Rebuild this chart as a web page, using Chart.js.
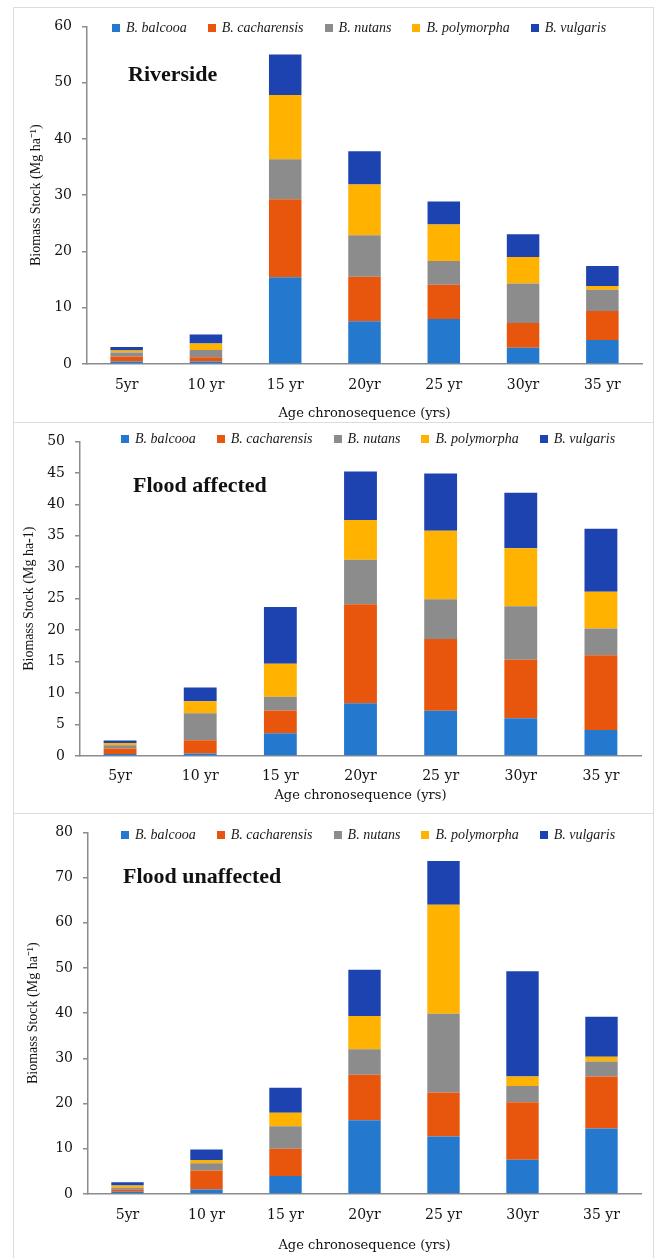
<!DOCTYPE html>
<html><head><meta charset="utf-8">
<script src="https://cdn.jsdelivr.net/npm/chart.js@4.4.1/dist/chart.umd.min.js"></script>
<style>
html,body{margin:0;padding:0;background:#fff;}
body{width:654px;height:1258px;position:relative;overflow:hidden;}
.panel{position:absolute;left:13px;width:641px;border:1px solid #dcdcdc;box-sizing:border-box;}
canvas{position:absolute;left:0;}
.lbl{position:absolute;font:bold 22px "Liberation Serif",serif;color:#111;white-space:nowrap;line-height:22px;}
.legend{position:absolute;display:flex;align-items:center;font:italic 14px "Liberation Serif",serif;color:#1a1a1a;white-space:nowrap;line-height:16px;}
.legend .item{display:flex;align-items:center;margin-right:21px;}
.legend i{display:inline-block;width:8px;height:8px;margin-right:6px;}
</style></head>
<body>
<div class="panel" style="top:7px;height:416px"></div>
<div class="panel" style="top:422px;height:392px"></div>
<div class="panel" style="top:813px;height:450px"></div>
<canvas id="c1" width="654" height="414" style="top:8px"></canvas>
<canvas id="c2" width="654" height="390" style="top:423px"></canvas>
<canvas id="c3" width="654" height="444" style="top:814px"></canvas>
<div class="lbl" style="left:128px;top:63px">Riverside</div>
<div class="lbl" style="left:133px;top:474px">Flood affected</div>
<div class="lbl" style="left:123px;top:865px">Flood unaffected</div>
<div class="legend" id="lg1" style="left:112px;top:20px"></div>
<div class="legend" id="lg2" style="left:121px;top:431px"></div>
<div class="legend" id="lg3" style="left:121px;top:827px"></div>
<script>
const categories = ['5yr','10 yr','15 yr','20yr','25 yr','30yr','35 yr'];
const speciesNames = ['B. balcooa','B. cacharensis','B. nutans','B. polymorpha','B. vulgaris'];
const speciesColors = ['#2479CE','#E8560E','#8C8C8C','#FFB200','#1C43B0'];

// Riverside (Mg ha-1)
const riversideBalcooa     = [0.45, 0.45, 15.4, 7.6, 8.0, 2.9, 4.25];
const riversideCacharensis = [0.9, 0.75, 13.9, 7.9, 6.1, 4.4, 5.15];
const riversideNutans      = [0.7, 1.3, 7.1, 7.4, 4.2, 7.0, 3.8];
const riversidePolymorpha  = [0.35, 1.15, 11.4, 9.0, 6.5, 4.7, 0.65];
const riversideVulgaris    = [0.6, 1.6, 7.2, 5.9, 4.1, 4.05, 3.55];

// Flood affected
const affectedBalcooa     = [0.3, 0.4, 3.6, 8.4, 7.2, 6.0, 4.15];
const affectedCacharensis = [0.9, 2.1, 3.65, 15.7, 11.4, 9.3, 11.85];
const affectedNutans      = [0.5, 4.3, 2.15, 7.1, 6.3, 8.5, 4.25];
const affectedPolymorpha  = [0.35, 1.9, 5.25, 6.3, 10.9, 9.2, 5.85];
const affectedVulgaris    = [0.4, 2.2, 9.05, 7.7, 9.1, 8.85, 10.0];

// Flood unaffected
const unaffectedBalcooa     = [0.5, 1.0, 4.0, 16.3, 12.7, 7.55, 14.5];
const unaffectedCacharensis = [0.45, 4.2, 6.0, 10.1, 9.75, 12.75, 11.5];
const unaffectedNutans      = [0.45, 1.6, 5.0, 5.6, 17.45, 3.6, 3.3];
const unaffectedPolymorpha  = [0.5, 0.7, 3.0, 7.4, 24.1, 2.1, 1.05];
const unaffectedVulgaris    = [0.7, 2.35, 5.5, 10.2, 9.7, 23.3, 8.85];

const yMax = [60, 50, 80];
const yStep = [10, 5, 10];
const xTitle = 'Age chronosequence (yrs)';
const yTitles = ['Biomass Stock (Mg ha\u207B\u00B9)', 'Biomass Stock (Mg ha-1)', 'Biomass Stock (Mg ha\u207B\u00B9)'];

const panelSeries = [
  [riversideBalcooa, riversideCacharensis, riversideNutans, riversidePolymorpha, riversideVulgaris],
  [affectedBalcooa, affectedCacharensis, affectedNutans, affectedPolymorpha, affectedVulgaris],
  [unaffectedBalcooa, unaffectedCacharensis, unaffectedNutans, unaffectedPolymorpha, unaffectedVulgaris]
];

// layout (pixels within each canvas)
const layoutsCfg = [
  {H:414, left:87, right:12, top:13, bottom:356, tickPad:13, titlePad:1, yTitleC:36},
  {H:390, left:80, right:13, top:12, bottom:333, tickPad:12, titlePad:10, yTitleC:29},
  {H:444, left:88, right:13, top:9,  bottom:380, tickPad:13, titlePad:5, yTitleC:33}
];

const axisGray = '#8c8c8c';
const textCol = '#111';

function makeLegend(id){
  const el = document.getElementById(id);
  speciesNames.forEach((n,i)=>{
    const s = document.createElement('span'); s.className='item';
    const b = document.createElement('i'); b.style.background = speciesColors[i];
    s.appendChild(b); s.appendChild(document.createTextNode(n));
    el.appendChild(s);
  });
}
['lg1','lg2','lg3'].forEach(makeLegend);

function makeChart(idx){
  const L = layoutsCfg[idx];
  const yTitleLH = 14*1.2;
  const datasets = panelSeries[idx].map((arr,i)=>({
    label: speciesNames[i], data: arr, backgroundColor: speciesColors[i],
    borderWidth: 0, categoryPercentage: 0.41, barPercentage: 1.0
  }));
  new Chart(document.getElementById('c'+(idx+1)), {
    type: 'bar',
    data: {labels: categories, datasets},
    options: {
      responsive: false, animation: false, devicePixelRatio: 1,
      layout: {padding: {top: L.top, right: L.right, bottom: 0, left: 0}},
      plugins: {legend: {display: false}, tooltip: {enabled: false}},
      scales: {
        x: {
          stacked: true,
          grid: {display: false, drawTicks: false},
          border: {display: true, color: axisGray, width: 1.5},
          ticks: {color: textCol, padding: L.tickPad, font: {family: 'DejaVu Serif', size: 14}},
          title: {display: true, text: xTitle, color: textCol, font: {family: 'DejaVu Serif', size: 13}, padding: {top: 0, bottom: L.titlePad}},
          afterFit: s => { s.height = L.H - L.bottom; }
        },
        y: {
          stacked: true, min: 0, max: yMax[idx],
          grid: {display: true, drawOnChartArea: false, drawTicks: true, tickLength: 5, color: axisGray, lineWidth: 1.5},
          border: {display: true, color: axisGray, width: 1.5},
          ticks: {stepSize: yStep[idx], color: textCol, padding: 10, font: {family: 'DejaVu Serif', size: 14}},
          title: {display: true, text: yTitles[idx], color: textCol, font: {family: 'Liberation Serif', size: 14},
                  padding: {top: L.yTitleC - yTitleLH/2, bottom: L.yTitleC - yTitleLH/2}},
          afterFit: s => { s.width = L.left; }
        }
      }
    }
  });
}
[0,1,2].forEach(makeChart);
</script>
</body></html>
